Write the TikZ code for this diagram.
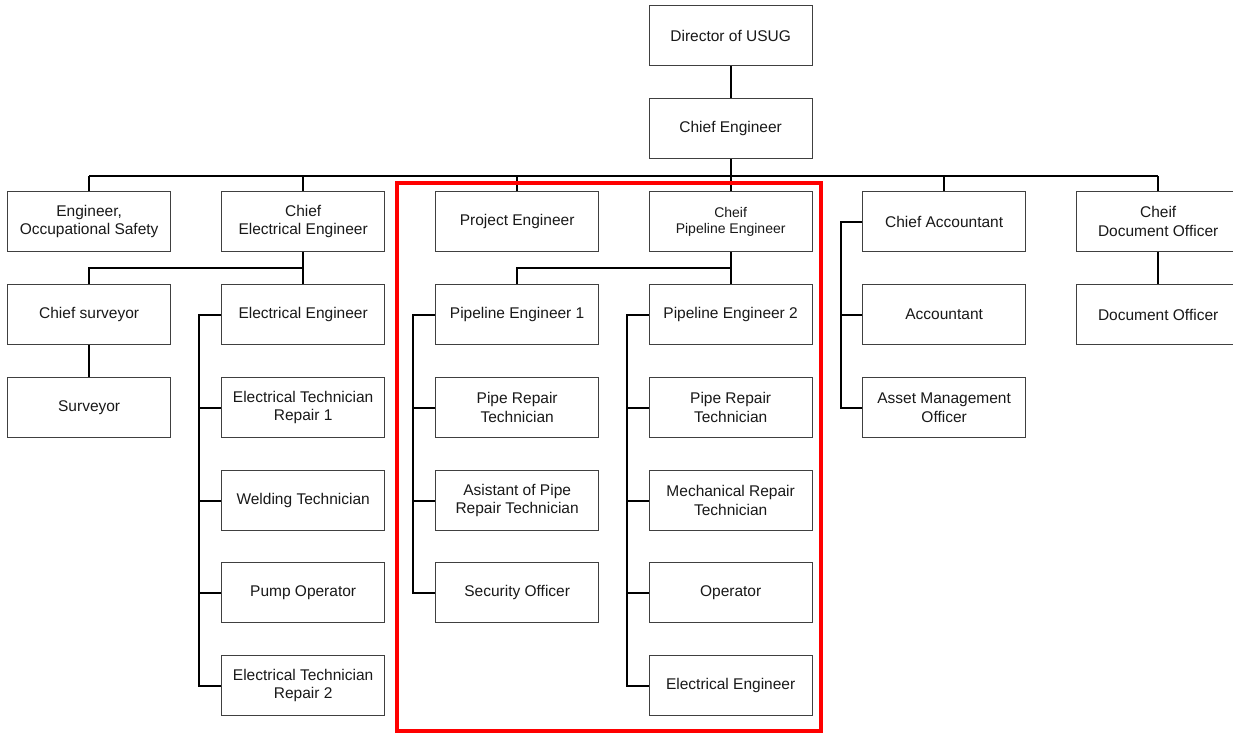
\documentclass[tikz,border=0pt]{standalone}
\usepackage{fontspec}
\setmainfont{Liberation Sans}
\usetikzlibrary{calc}
\begin{document}
\begin{tikzpicture}[x=1pt,y=-1pt,
  box/.style={draw=black!75, line width=1.3pt, minimum width=163pt, minimum height=60pt,
    inner sep=0pt, align=center, anchor=north west, font=\fontsize{15.5}{18.5}\selectfont, text=black!90},
  smallbox/.style={box, font=\fontsize{14}{16.5}\selectfont},
  conn/.style={draw=black, line width=1.8pt}]
\useasboundingbox (0,0) rectangle (1233,733);
\fill[white] (0,0) rectangle (1233,733);
% top
\node[box] (dir) at (648.5,5) {Director of USUG};
\node[box] (ce) at (648.5,98) {Chief Engineer};
% row 1
\node[box] (eos) at (7,191) {Engineer,\\Occupational Safety};
\node[box] (cee) at (221,191) {Chief\\Electrical Engineer};
\node[box] (pe) at (435,191) {Project Engineer};
\node[smallbox] (cpe) at (648.5,191) {Cheif\\Pipeline Engineer};
\node[box] (ca) at (862,191) {Chief Accountant};
\node[box] (cdo) at (1076,191) {Cheif\\Document Officer};
% row 2
\node[box] (cs) at (7,284) {Chief surveyor};
\node[box] (ee) at (221,284) {Electrical Engineer};
\node[box] (pe1) at (435,284) {Pipeline Engineer 1};
\node[box] (pe2) at (648.5,284) {Pipeline Engineer 2};
\node[box] (acc) at (862,284) {Accountant};
\node[box] (do) at (1076,284) {Document Officer};
% row 3
\node[box] (sv) at (7,377) {Surveyor};
\node[box] (etr1) at (221,377) {Electrical Technician\\Repair 1};
\node[box] (prt1) at (435,377) {Pipe Repair\\Technician};
\node[box] (prt2) at (648.5,377) {Pipe Repair\\Technician};
\node[box] (amo) at (862,377) {Asset Management\\Officer};
% row 4
\node[box] (wt) at (221,470) {Welding Technician};
\node[box] (aprt) at (435,470) {Asistant of Pipe\\Repair Technician};
\node[box] (mrt) at (648.5,470) {Mechanical Repair\\Technician};
% row 5
\node[box] (po) at (221,562) {Pump Operator};
\node[box] (so) at (435,562) {Security Officer};
\node[box] (op) at (648.5,562) {Operator};
% row 6
\node[box] (etr2) at (221,655) {Electrical Technician\\Repair 2};
\node[box] (ee2) at (648.5,655) {Electrical Engineer};
% bus
\coordinate (busL) at (eos.north |- 0,176);
\coordinate (busR) at (cdo.north |- 0,176);
\draw[conn] (dir) -- (ce);
\draw[conn] (busL) -- (busR);
\draw[conn] (ce.south) -- (cpe.north);
\foreach \n in {eos,cee,pe,ca,cdo} \draw[conn] (\n.north) -- (\n.north |- busL);
% chief electrical
\coordinate (j1) at ($(cee.south)!0.5!(ee.north)$);
\draw[conn] (cee) -- (ee);
\draw[conn] (cs.north) |- (j1);
\draw[conn] (cs) -- (sv);
% chief pipeline
\coordinate (j2) at ($(cpe.south)!0.5!(pe2.north)$);
\draw[conn] (cpe) -- (pe2);
\draw[conn] (pe1.north) |- (j2);
\draw[conn] (cdo) -- (do);
% branches
\coordinate (b1) at (199,0);
\coordinate (b2) at (413,0);
\coordinate (b3) at (627,0);
\coordinate (b4) at (841,0);
\draw[conn] (ee.west) -- (ee.west -| b1) |- (etr2.west);
\foreach \n in {etr1,wt,po} \draw[conn] (\n.west) -- (\n.west -| b1);
\draw[conn] (pe1.west) -- (pe1.west -| b2) |- (so.west);
\foreach \n in {prt1,aprt} \draw[conn] (\n.west) -- (\n.west -| b2);
\draw[conn] (pe2.west) -- (pe2.west -| b3) |- (ee2.west);
\foreach \n in {prt2,mrt,op} \draw[conn] (\n.west) -- (\n.west -| b3);
\draw[conn] (ca.west) -- (ca.west -| b4) |- (amo.west);
\draw[conn] (acc.west) -- (acc.west -| b4);
% highlight
\draw[red, line width=4pt] (397,183) rectangle (821,731);
\end{tikzpicture}
\end{document}
